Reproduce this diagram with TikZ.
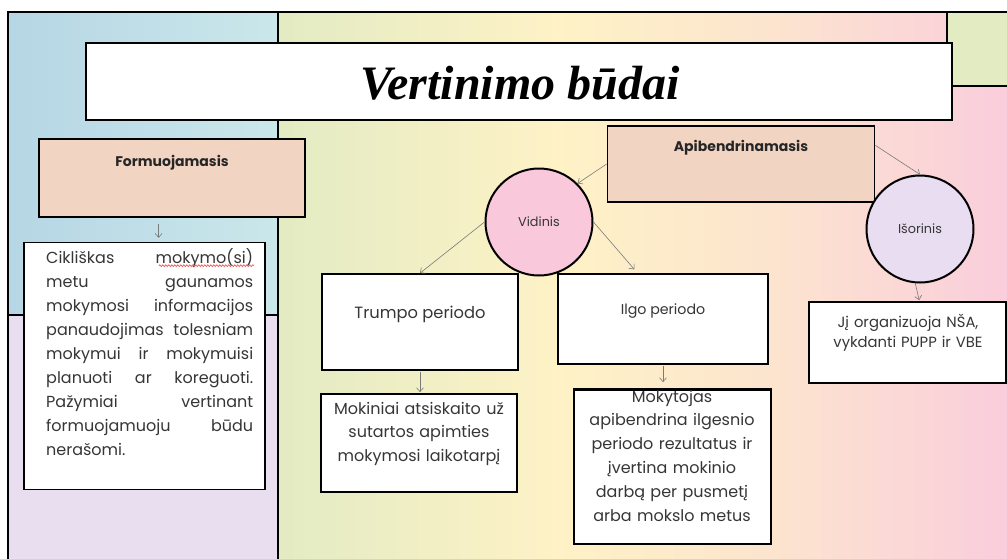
\documentclass[tikz,border=0pt]{standalone}
\usepackage{fontspec}
\setmainfont{Poppins}
\newfontfamily\titlefont{Liberation Serif}
\usetikzlibrary{arrows.meta,calc,decorations.pathmorphing}
\definecolor{blueL}{HTML}{B6D6E5}
\definecolor{blueR}{HTML}{CAE7EA}
\definecolor{lavpanel}{HTML}{E9DEEF}
\definecolor{greenbox}{HTML}{E3EBC3}
\definecolor{peachbox}{HTML}{F2D4C3}
\definecolor{pinkcirc}{HTML}{F9C8DB}
\definecolor{lavcirc}{HTML}{E8DDF1}
\definecolor{bodytext}{HTML}{363636}
\definecolor{labeltext}{HTML}{262626}
\definecolor{arrowgray}{HTML}{7A7A7A}
\definecolor{wavered}{HTML}{F05A5A}
\pgfdeclarehorizontalshading{midgrad}{100bp}{rgb(0bp)=(0.890,0.922,0.765); rgb(25bp)=(0.890,0.922,0.765); rgb(44bp)=(0.996,0.949,0.776); rgb(59bp)=(0.988,0.894,0.812); rgb(75bp)=(0.980,0.804,0.863); rgb(100bp)=(0.980,0.804,0.863)}
\newcommand\jline[1]{\leavevmode\hbox to 207pt{#1}}
\begin{document}
\begin{tikzpicture}[x=1pt,y=-1pt,
  panelline/.style={draw=black,line width=1.6pt},
  boxnode/.style={draw=black,line width=1.7pt,fill=white,inner sep=0pt,rectangle},
  circnode/.style={draw=black,line width=2pt,circle,inner sep=0pt,minimum size=107pt,text=bodytext,font=\fontsize{12.8}{15}\selectfont},
  conn/.style={draw=arrowgray,line width=0.6pt,-{Straight Barb[length=4pt,width=7pt]}},
  labelbold/.style={text=labeltext,font=\fontsize{14}{16}\selectfont\bfseries,inner sep=0pt,anchor=base},
  bodytxt/.style={text=bodytext,inner sep=0pt,anchor=base,align=center},
  spellwave/.style={draw=wavered,line width=0.7pt,decorate,decoration={snake,amplitude=0.9pt,segment length=3pt}}
]
\useasboundingbox (0,0) rectangle (1007,558);
\clip (0,0) rectangle (1007,558);
\fill[white] (0,0) rectangle (1007,558);
% backgrounds
\path[left color=blueL,right color=blueR] (8,12) rectangle (278,315);
\fill[lavpanel] (8,315) rectangle (278,562);
\path[shading=midgrad] (278,12) rectangle (1010,562);
\fill[greenbox] (947,12) rectangle (1010,86);
\draw[panelline] (8,562) -- (8,12) -- (1010,12);
\draw[panelline] (278,12) -- (278,562);
\draw[panelline] (8,315) -- (278,315);
\draw[panelline] (947,12) -- (947,86) -- (1010,86);

% title
\node[boxnode,minimum width=866pt,minimum height=77pt] (title) at (519,81.5) {};
\node[inner sep=0pt,anchor=base,font=\titlefont\fontsize{48}{50}\selectfont\bfseries\itshape] (titletext) at (520,99) {Vertinimo būdai};

% left branch
\node[boxnode,fill=peachbox,minimum width=266pt,minimum height=78pt] (form) at (172,178) {};
\node[labelbold] (formtext) at (172,166) {Formuojamasis};
\node[boxnode,minimum width=241pt,minimum height=247pt] (cik) at (144.5,366) {};
\node[text=bodytext,inner sep=0pt,anchor=base west,text width=207pt,align=left,
      font=\fontsize{16}{24}\selectfont] (ciktext) at (46,263) {%
\jline{Cikliškas\hfill mokymo(si)}\\
\jline{metu\hfill gaunamos}\\
\jline{mokymosi\hfill informacijos}\\
\jline{panaudojimas\hfill tolesniam}\\
\jline{mokymui\hfill ir\hfill mokymuisi}\\
\jline{planuoti\hfill ar\hfill koreguoti.}\\
\jline{Pažymiai\hfill vertinant}\\
\jline{formuojamuoju\hfill būdu}\\
nerašomi.};
\coordinate (wavestart) at ($(cik.north east)+(-107,24)$);
\coordinate (waveend) at ($(cik.north east)+(-12,24)$);
\path[spellwave] (wavestart) -- (waveend);

% right branch
\node[boxnode,fill=peachbox,minimum width=267pt,minimum height=76pt] (apib) at (741,164) {};
\node[labelbold] (apibtext) at (741,151) {Apibendrinamasis};
\node[circnode,fill=pinkcirc] (vid) at (539,222) {Vidinis};
\node[circnode,fill=lavcirc] (isor) at (920,229) {Išorinis};

\node[boxnode,minimum width=196pt,minimum height=96pt] (trumpo) at (420,322) {};
\node[bodytxt,font=\fontsize{16.3}{18}\selectfont] (trumpotext) at (420,318) {Trumpo periodo};
\node[boxnode,minimum width=210pt,minimum height=90pt] (ilgo) at (663,319) {};
\node[bodytxt,font=\fontsize{14.2}{16}\selectfont] (ilgotext) at (663,314) {Ilgo periodo};

\node[boxnode,minimum width=196pt,minimum height=98pt] (mok) at (419,443) {};
\node[bodytxt,text width=196pt,font=\fontsize{16}{23.5}\selectfont] (moktext) at (419,414) {Mokiniai atsiskaito už\\sutartos apimties\\mokymosi laikotarpį};

\node[boxnode,minimum width=197pt,minimum height=154pt] (moky) at (672.5,467) {};
\node[bodytxt,text width=197pt,font=\fontsize{16}{23.8}\selectfont] (mokytext) at (672,402) {Mokytojas\\apibendrina ilgesnio\\periodo rezultatus ir\\įvertina mokinio\\darbą per pusmetį\\arba mokslo metus};
\draw[black,line width=1.7pt] (moky.north west) -- (moky.north east);

\node[boxnode,minimum width=197pt,minimum height=81pt] (nsa) at (907.5,342.5) {};
\node[bodytxt,text width=197pt,font=\fontsize{14.8}{20.5}\selectfont] (nsatext) at (908,327) {Jį organizuoja NŠA,\\vykdanti PUPP ir VBE};

% connectors
\draw[conn,shorten <=6pt,shorten >=5pt] ($(form.south west)!0.45!(form.south east)$) -- ($(form.south west)!0.45!(form.south east)+(0,25)$) coordinate (formarrowend);
\draw[conn] (apib.west) -- (vid.45);
\draw[conn] (vid.west) -- (trumpo.north);
\draw[conn,shorten >=5pt] (vid.east) -- ($(ilgo.north west)!0.38!(ilgo.north east)$);
\draw[conn,shorten <=1pt,shorten >=1pt] (trumpo.south) -- (trumpo.south |- mok.north);
\draw[conn,shorten <=1pt,shorten >=7pt] (ilgo.south) -- (ilgo.south |- moky.north);
\draw[conn] ($(apib.north east)!0.26!(apib.south east)$) -- (isor.north);
\draw[conn,shorten >=1pt] (isor.265) -- ($(nsa.north west)!0.56!(nsa.north east)$);
\end{tikzpicture}
\end{document}
